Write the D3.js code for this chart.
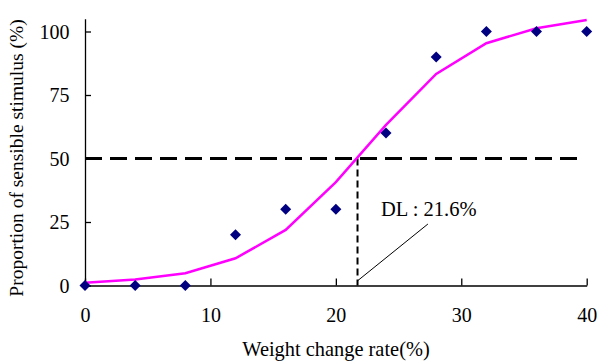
<!DOCTYPE html>
<html><head><meta charset="utf-8">
<script src="https://cdn.jsdelivr.net/npm/d3@7"></script>
<style>body{margin:0;background:#fff}svg{display:block}svg text{font-family:"Liberation Serif",serif !important;fill:#000}</style>
</head><body><svg id="c" width="597" height="362"></svg>
<script>
const xVals = [0,4,8,12,16,20,24,28,32,36,40];
const observed = [0,0,0,20,30,30,60,90,100,100,100];
const fitted = [1.1,2.4,4.8,10.7,21.9,40.7,63.2,83.3,95.4,101.3,104.5];
const xTicks = [0,10,20,30,40];
const yTicks = [0,25,50,75,100];
const threshold = 50;
const dl = 21.6;
const dlLabel = "DL : 21.6%";
const xTitle = "Weight change rate(%)";
const yTitle = "Proportion of sensible stimulus (%)";

const svg = d3.select("#c");
const x = d3.scaleLinear().domain([0,40]).range([85,586.7]);
const y = d3.scaleLinear().domain([0,105]).range([285.5,18.8]);

// axes
const xAxis = svg.append("g").attr("transform",`translate(0,${y(0)})`)
  .call(d3.axisBottom(x).tickValues(xTicks).tickSizeInner(-7).tickSizeOuter(0).tickPadding(22));
const yAxis = svg.append("g").attr("transform",`translate(${x(0)},0)`)
  .call(d3.axisLeft(y).tickValues(yTicks).tickSizeInner(-6).tickSizeOuter(0).tickPadding(16));
[xAxis,yAxis].forEach(g=>{
  g.attr("font-family","Liberation Serif").attr("font-size",20);
  g.select(".domain").attr("stroke","#000").attr("stroke-width",1.3);
  g.selectAll(".tick line").attr("stroke","#000").attr("stroke-width",1.3);
  g.selectAll(".tick text").attr("fill","#000");
});
xAxis.selectAll(".tick text").attr("dy",null).attr("y",36.5);
yAxis.selectAll(".tick text").attr("x",-15.5).attr("dy","0.34em");

// horizontal dashed line at 50
svg.append("line").attr("x1",x(0)).attr("x2",x(39.5)).attr("y1",y(threshold)).attr("y2",y(threshold))
  .attr("stroke","#000").attr("stroke-width",3).attr("stroke-dasharray","17,8");

// vertical dashed
svg.append("line").attr("x1",x(dl)+1.6).attr("x2",x(dl)+1.6).attr("y1",y(threshold)).attr("y2",y(0))
  .attr("stroke","#000").attr("stroke-width",2).attr("stroke-dasharray","7,4");

// fitted curve
svg.append("path").datum(xVals.map((v,i)=>[v,fitted[i]]))
  .attr("fill","none").attr("stroke","#FF00FF").attr("stroke-width",2.5)
  .attr("d",d3.line().x(d=>x(d[0])).y(d=>y(d[1])));

// markers
svg.append("g").selectAll("path").data(xVals.map((v,i)=>[v,observed[i]])).join("path")
  .attr("transform",d=>`translate(${x(d[0])},${y(d[1])})`)
  .attr("d","M0,-5.5L5.5,0L0,5.5L-5.5,0Z").attr("fill","#000080");

// leader line + label
svg.append("line").attr("x1",x(dl)+2).attr("y1",y(0)-5).attr("x2",x(dl)+72).attr("y2",y(0)-61.5)
  .attr("stroke","#000").attr("stroke-width",1);
svg.append("text").attr("x",381).attr("y",216).attr("font-size",20.5).text(dlLabel);

// titles
svg.append("text").attr("x",336).attr("y",356).attr("text-anchor","middle").attr("font-size",20.4).text(xTitle);
svg.append("text").attr("transform","translate(23,158) rotate(-90)").attr("text-anchor","middle").attr("font-size",19.5).text(yTitle);
</script></body></html>
